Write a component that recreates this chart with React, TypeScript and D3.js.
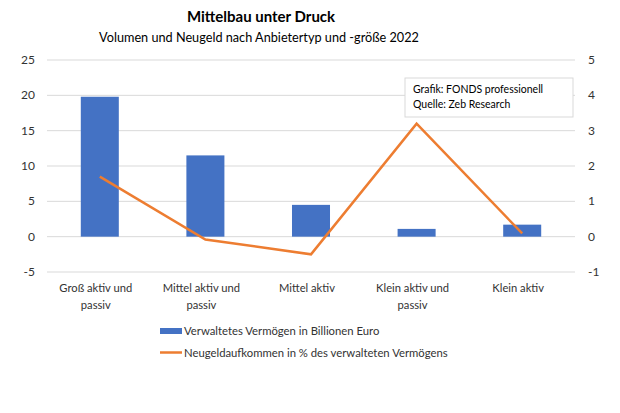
import React from 'react'
import * as d3 from 'd3'

// Werte
const categories = [
  ['Groß aktiv und', 'passiv'],
  ['Mittel aktiv und', 'passiv'],
  ['Mittel aktiv'],
  ['Klein aktiv und', 'passiv'],
  ['Klein aktiv'],
]
const vermoegen = [19.8, 11.5, 4.5, 1.1, 1.7]
const neugeld = [1.7, -0.08, -0.5, 3.2, 0.09]
const leftTicks = [-5, 0, 5, 10, 15, 20, 25]
const rightTicks = [-1, 0, 1, 2, 3, 4, 5]

const W = 620
const H = 413
const FONT = 'Lato, "Open Sans", sans-serif'
const BLUE = '#4472c4'
const ORANGE = '#ed7d31'
const GREY_TEXT = '#333'

export default function App() {
  const x = d3.scaleBand<number>()
    .domain(d3.range(categories.length))
    .range([47, 575])
    .paddingInner(0.64)
    .paddingOuter(0.32)
  const yL = d3.scaleLinear().domain([-5, 25]).range([272, 60])
  const yR = d3.scaleLinear().domain([-1, 5]).range([272, 60])
  const cx = (i: number) => x(i)! + x.bandwidth() / 2

  const line = d3.line<number>()
    .x((_, i) => cx(i))
    .y(d => yR(d))

  return (
    <svg width={W} height={H} style={{ position: 'absolute', left: 0, top: 0, background: '#fff' }}
      fontFamily={FONT}>
      <text x={261} y={22} textAnchor="middle" fontSize={15} fontWeight="bold" fill="#000">
        Mittelbau unter Druck
      </text>
      <text x={259} y={42} textAnchor="middle" fontSize={12.7} fill="#000">
        Volumen und Neugeld nach Anbietertyp und -größe 2022
      </text>

      {leftTicks.map(t => (
        <g key={t}>
          <line x1={47} x2={575} y1={yL(t)} y2={yL(t)} stroke="#d9d9d9" strokeWidth={1} />
          <text x={35} y={yL(t) + 4} textAnchor="end" fontSize={12} fill={GREY_TEXT}>{t}</text>
        </g>
      ))}
      {rightTicks.map(t => (
        <text key={t} x={588} y={yR(t) + 4} fontSize={12} fill={GREY_TEXT}>{t}</text>
      ))}

      {vermoegen.map((v, i) => (
        <rect key={i} x={x(i)} width={x.bandwidth()} y={yL(Math.max(v, 0))}
          height={Math.abs(yL(v) - yL(0))} fill={BLUE} />
      ))}

      <path d={line(neugeld)!} fill="none" stroke={ORANGE} strokeWidth={2.5} strokeLinejoin="miter" />

      {categories.map((lines, i) => (
        <text key={i} x={cx(i) - 4} textAnchor="middle" fontSize={11.2} fill={GREY_TEXT}>
          {lines.map((l, j) => (
            <tspan key={j} x={cx(i) - 4} y={292 + j * 17}>{l}</tspan>
          ))}
        </text>
      ))}

      <rect x={405} y={78} width={168} height={39} fill="#fff" stroke="#d9d9d9" />
      <text x={413} y={93} fontSize={10.5} fill="#000">Grafik: FONDS professionell</text>
      <text x={413} y={108} fontSize={10.5} fill="#000">Quelle: Zeb Research</text>

      <rect x={160} y={328} width={22} height={6} fill={BLUE} />
      <text x={184} y={335} fontSize={11.3} fill={GREY_TEXT}>Verwaltetes Vermögen in Billionen Euro</text>
      <line x1={160} x2={182} y1={352.5} y2={352.5} stroke={ORANGE} strokeWidth={2.5} />
      <text x={184} y={357} fontSize={11.3} fill={GREY_TEXT}>Neugeldaufkommen in % des verwalteten Vermögens</text>
    </svg>
  )
}
